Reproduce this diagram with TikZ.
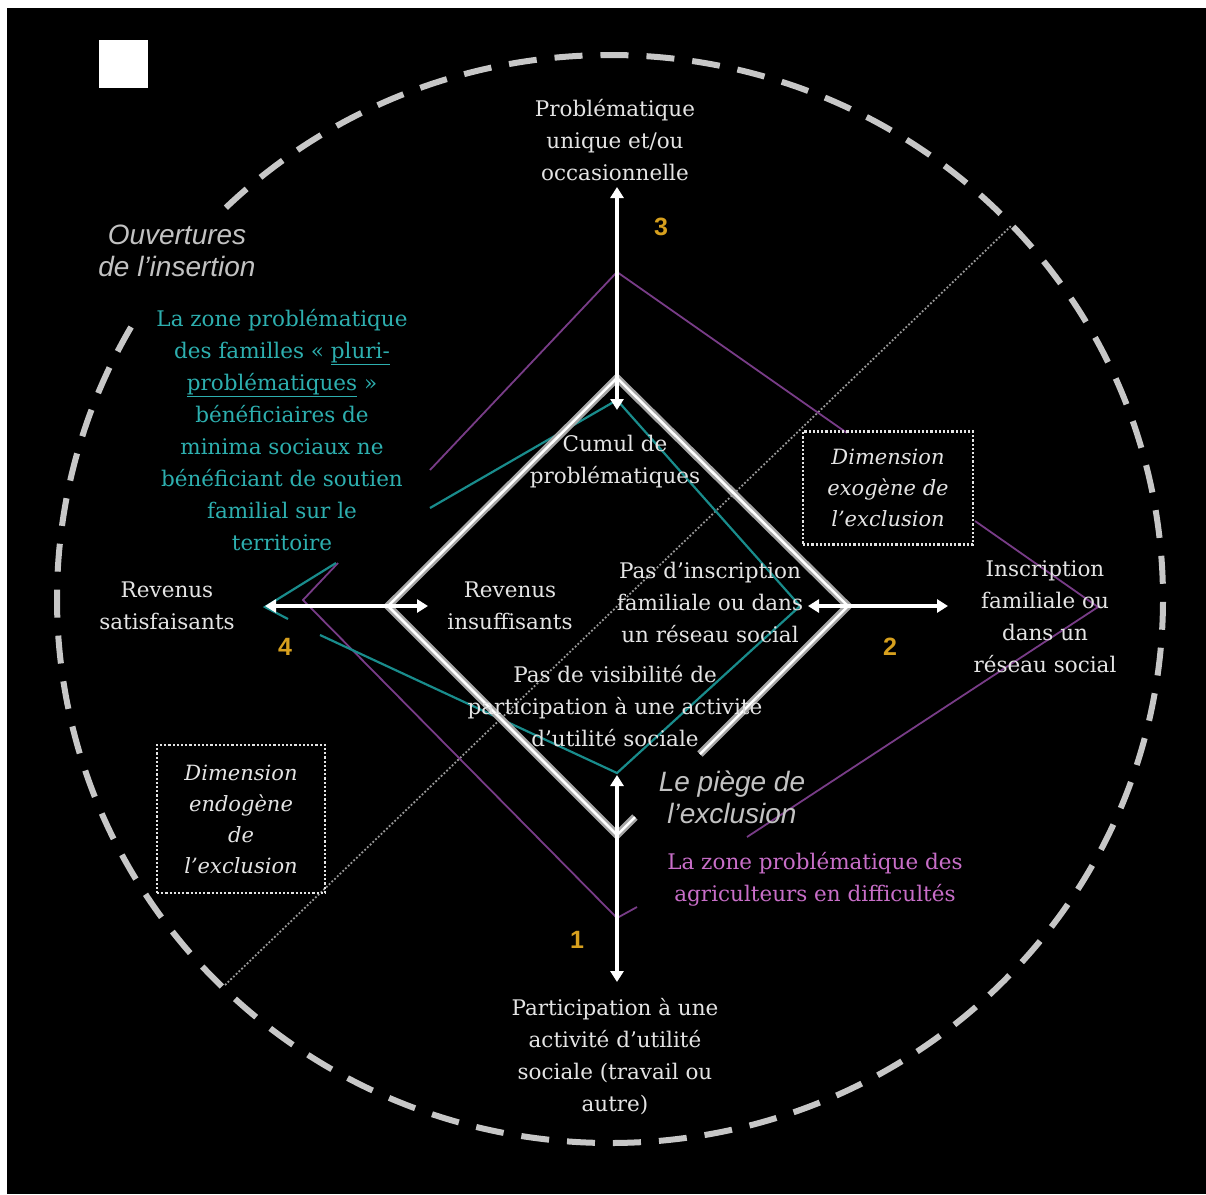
\documentclass[tikz,border=0pt]{standalone}
\usepackage{fontspec}
\setmainfont{DejaVu Serif}
\newfontfamily\arialfont{Liberation Sans}
\usetikzlibrary{arrows.meta}

\definecolor{txtgray}{RGB}{228,228,228}
\definecolor{zoneteal}{RGB}{45,175,175}
\definecolor{lineteal}{RGB}{25,140,140}
\definecolor{zonepink}{RGB}{200,110,200}
\definecolor{linepurple}{RGB}{120,60,135}
\definecolor{numgold}{RGB}{215,160,30}

\tikzset{
  lbl/.style={align=center, text=txtgray, inner sep=0pt,
    font=\fontsize{21.5}{32}\selectfont},
  zonelbl/.style={lbl, text=zoneteal},
  agrilbl/.style={lbl, text=zonepink},
  sanslbl/.style={align=center, text=txtgray!85!black, inner sep=0pt,
    font=\arialfont\itshape\fontsize{28}{32}\selectfont},
  numlbl/.style={text=numgold, inner sep=0pt,
    font=\arialfont\bfseries\fontsize{25}{30}\selectfont},
  dimbox/.style={lbl, draw=txtgray, dotted, line width=2.2pt,
    font=\itshape\fontsize{21}{31}\selectfont},
  axis/.style={white, line width=3.5pt,
    {Triangle[length=11pt,width=13pt]}-{Triangle[length=11pt,width=13pt]}},
  diam/.style={draw=gray!70!white, line width=2.5pt, double=white,
    double distance=2.5pt},
  purpleline/.style={linepurple, line width=1.8pt},
  tealline/.style={lineteal, line width=2.2pt},
  circdash/.style={white!78!black, line width=6pt, dash pattern=on 28pt off 18pt}
}

\begin{document}
\begin{tikzpicture}[x=1pt, y=-1pt]
  \useasboundingbox (0,0) rectangle (1206,1194);
  \fill[white] (0,0) rectangle (1206,1194);
  \fill[black] (7,8) rectangle (1206,1194);
  \fill[white] (99,40) rectangle (148,88);

  % outer circle, open behind the "Ouvertures" label
  \draw[circdash] (610,599) ++(226:553 and 544)
    arc[start angle=226, end angle=570, x radius=553, y radius=544];

  % dotted diagonal
  \coordinate (dlow) at (225,985);
  \coordinate (dhigh) at (1012,225);
  \draw[gray!80!white, dotted, line width=1.8pt] (dlow) -- (dhigh);

  % the zones
  \draw[purpleline] (430,470) -- (617,272) -- (847,433);
  \draw[purpleline] (975,521) -- (1098,607) -- (747,837);
  \draw[purpleline] (338,563) -- (303,600) -- (617,918) -- (637,907);
  \draw[tealline] (336,563) -- (265,607) -- (288,619);
  \draw[tealline] (320,635) -- (617,773) -- (800,606) -- (617,400) -- (430,508);

  % diamond
  \coordinate (dtop) at (617,378);
  \coordinate (dright) at (848,606);
  \coordinate (dbot) at (617,835);
  \coordinate (dleft) at (388,606);
  \coordinate (dgapA) at (700,754);
  \coordinate (dgapB) at (635,817);
  \draw[diam] (dgapA) -- (dright) -- (dtop) -- (dleft) -- (dbot) -- (dgapB);

  % axes
  \coordinate (ytopA) at (617,410);
  \coordinate (ytopB) at (617,187);
  \coordinate (ybotA) at (617,775);
  \coordinate (ybotB) at (617,982);
  \coordinate (xleftA) at (265,606);
  \coordinate (xleftB) at (428,606);
  \coordinate (xrightA) at (808,606);
  \coordinate (xrightB) at (948,606);
  \draw[axis] (ytopA) -- (ytopB);
  \draw[axis] (ybotA) -- (ybotB);
  \draw[axis] (xleftA) -- (xleftB);
  \draw[axis] (xrightA) -- (xrightB);

  % labels
  \node[lbl] (probunique) at (615,140) {Problématique\\unique et/ou\\occasionnelle};
  \node[lbl] (cumul) at (615,462) {Cumul de\\problématiques};
  \node[lbl] (revins) at (510,606) {Revenus\\insuffisants};
  \node[lbl] (pasinscr) at (710,602) {Pas d’inscription\\familiale ou dans\\un réseau social};
  \node[lbl] (pasvis) at (615,706) {Pas de visibilité de\\participation à une activité\\d’utilité sociale};
  \node[lbl] (revsat) at (167,606) {Revenus\\satisfaisants};
  \node[lbl] (inscr) at (1045,617) {Inscription\\familiale ou\\dans un\\réseau social};
  \node[lbl] (particip) at (615,1057) {Participation à une\\activité d’utilité\\sociale (travail ou\\autre)};

  \node[sanslbl] (piege) at (732,797) {Le piège de\\l’exclusion};
  \node[sanslbl] (ouvert) at (177,251) {Ouvertures\\de l’insertion};

  \node[agrilbl] (agri) at (815,879) {La zone problématique des\\agriculteurs en difficultés};
  \node[zonelbl] (familles) at (282,430) {La zone problématique\\des familles « \underline{pluri-}\\\underline{problématiques} »\\bénéficiaires de\\minima sociaux ne\\bénéficiant de soutien\\familial sur le\\territoire};

  \node[dimbox, minimum width=170pt, minimum height=113pt] (exo) at (888,488)
    {Dimension\\exogène de\\l’exclusion};
  \node[dimbox, minimum width=168pt, minimum height=148pt] (endo) at (241,819)
    {Dimension\\endogène\\de\\l’exclusion};

  \node[numlbl] (num3) at (661,227) {3};
  \node[numlbl] (num2) at (890,647) {2};
  \node[numlbl] (num4) at (285,647) {4};
  \node[numlbl] (num1) at (577,940) {1};
\end{tikzpicture}
\end{document}
